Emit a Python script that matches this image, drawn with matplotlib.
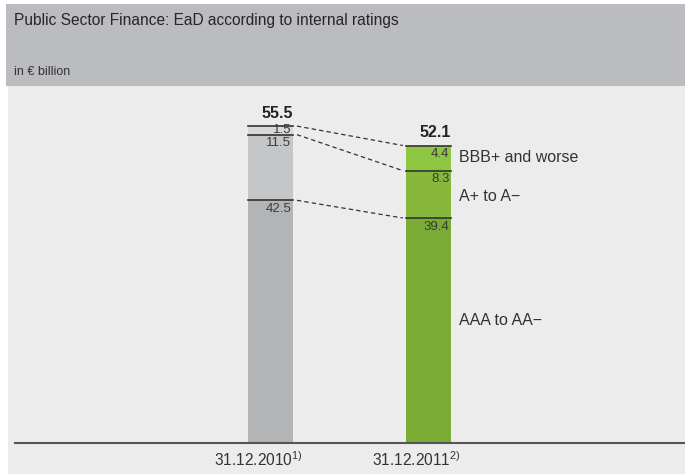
import matplotlib.pyplot as plt
from matplotlib.patches import Rectangle

# data (in € billion)
dates = ["31.12.2010", "31.12.2011"]
footnotes = ["1)", "2)"]
ratings = ["AAA to AA\u2212", "A+ to A\u2212", "BBB+ and worse"]
values_2010 = [42.5, 11.5, 1.5]
values_2011 = [39.4, 8.3, 4.4]
totals = [55.5, 52.1]

colors_2010 = ["#b3b4b6", "#c5c6c8", "#d7d8d9"]
colors_2011 = ["#7aab35", "#87b83b", "#8fc641"]

W, H = 685, 474
fig = plt.figure(figsize=(W / 100, H / 100), dpi=100)
fig.patch.set_facecolor("white")

# header band and plot background
fig.patches.append(Rectangle((8 / W, 0), 1, (H - 86) / H, transform=fig.transFigure,
                             facecolor="#ebeceb", edgecolor="none", zorder=-2))
fig.patches.append(Rectangle((6 / W, (H - 86) / H), 1, 82 / H, transform=fig.transFigure,
                             facecolor="#bbbcbf", edgecolor="none", zorder=-2))

font = ["Liberation Sans", "DejaVu Sans"]
fig.text(14 / W, 1 - 21 / H, "Public Sector Finance: EaD according to internal ratings",
         fontsize=11.2, family=font, color="#262626", va="center", ha="left")
fig.text(14 / W, 1 - 72 / H, "in \u20ac billion", fontsize=9, family=font,
         color="#333333", va="center", ha="left")

# axes: baseline at y=443px, 5.71 px per unit
base = 443
ax = fig.add_axes([0, (H - base) / H, 1, (base - 86) / H])
ax.set_axis_off()
ax.set_ylim(0, (base - 86) / 5.71)
ax.set_xlim(-270.5 / 158, (W - 270.5) / 158)

x = [0, 1]
bw = 45 / 158

for xi, vals, cols in [(x[0], values_2010, colors_2010), (x[1], values_2011, colors_2011)]:
    bottom = 0
    for v, c in zip(vals, cols):
        ax.bar(xi, v, bw, bottom=bottom, color=c, edgecolor="none", zorder=2)
        top = bottom + v
        ax.plot([xi - bw / 2, xi + bw / 2], [top, top], color="#333333", lw=1.2, zorder=3)
        if v < 2:
            ax.text(xi + bw / 2 - 0.01, bottom + v / 2, f"{v:.1f}", ha="right",
                    va="center", fontsize=9.5, color="#3a3a3a", family=font, zorder=4)
        else:
            ax.text(xi + bw / 2 - 0.01, top - 0.45, f"{v:.1f}", ha="right", va="top",
                    fontsize=9.5, color="#3a3a3a", family=font, zorder=4)
        bottom = top

for xi, t in zip(x, totals):
    ax.text(xi + bw / 2, t + 0.9, f"{t:.1f}", ha="right", va="bottom",
            fontsize=11.5, color="#222222", family=font, fontweight="bold")

# dashed connectors
cum10 = [sum(values_2010[:i + 1]) for i in range(3)]
cum11 = [sum(values_2011[:i + 1]) for i in range(3)]
for a, b in zip(cum10, cum11):
    ax.plot([x[0] + bw / 2 + 0.025, x[1] - bw / 2 - 0.02], [a, b], color="#333333",
            lw=0.9, ls=(0, (3.5, 2.5)), zorder=3)

# rating labels
label_y = [21.5, 43.2, 50.0]
for lab, ly in zip(ratings, label_y):
    ax.text(x[1] + bw / 2 + 0.05, ly, lab, ha="left", va="center", fontsize=11.5,
            color="#333333", family=font)

# baseline and date labels
ax.plot([15 / 158 - 270.5 / 158, (W - 270.5) / 158], [0, 0], color="#555555", lw=1.5,
        zorder=3, clip_on=False)
for xi, d, fn in zip(x, dates, footnotes):
    ax.text(xi - 0.075, -3.0, d + r"$^{\mathregular{" + fn + "}}$", ha="center",
            va="center", fontsize=11.2, color="#333333", family=font)

fig.savefig("out.png", dpi=100)
